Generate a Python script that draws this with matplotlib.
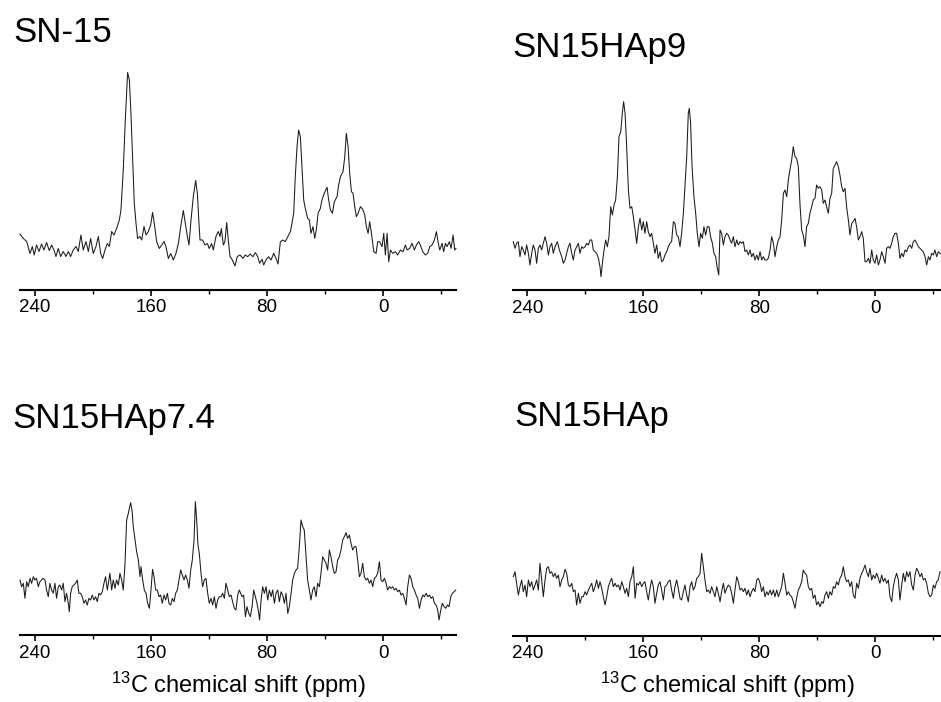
import matplotlib.pyplot as plt

plt.rcParams['font.family'] = ['Liberation Sans', 'DejaVu Sans']
plt.rcParams['mathtext.fontset'] = 'custom'
plt.rcParams['mathtext.rm'] = 'Liberation Sans'
plt.rcParams['mathtext.it'] = 'Liberation Sans:italic'

# 13C CP/MAS spectra, intensity in arbitrary units
sn15_ppm = [250.3, 248.0, 245.7, 243.4, 241.8, 240.5, 238.9, 237.2, 235.4, 233.8,
            232.0, 230.1, 228.5, 226.9, 225.5, 223.9, 222.3, 220.5, 218.6, 217.0,
            215.4, 213.6, 211.7, 210.1, 208.3, 206.7, 204.8, 203.2, 201.6, 199.8,
            197.9, 196.3, 194.7, 193.3, 191.7, 190.1, 188.7, 187.1, 185.5, 183.7,
            181.8, 180.7, 179.1, 177.7, 176.1, 174.9, 173.8, 172.6, 171.5, 170.3,
            169.2, 167.6, 166.4, 164.8, 163.4, 161.8, 160.2, 158.9, 157.7, 156.1,
            154.3, 152.6, 151.0, 149.7, 148.0, 146.4, 144.6, 142.8, 141.1, 139.5,
            137.7, 136.3, 134.9, 133.8, 132.4, 130.8, 129.2, 128.0, 126.9, 126.2,
            124.4, 122.8, 121.1, 119.8, 118.2, 117.0, 115.2, 113.6, 112.4, 111.5,
            110.1, 109.0, 107.8, 106.7, 105.5, 103.9, 102.1, 100.5, 98.6, 96.6,
            94.9, 93.3, 91.5, 89.7, 88.0, 86.4, 85.1, 83.4, 82.3, 80.5,
            78.9, 77.2, 75.4, 73.8, 72.4, 70.8, 69.0, 67.4, 65.7, 63.9,
            62.8, 61.6, 60.5, 59.3, 58.2, 57.0, 55.9, 54.7, 53.6, 52.0,
            50.8, 49.7, 48.3, 47.1, 46.0, 44.8, 43.2, 42.1, 40.5, 38.6,
            37.5, 36.3, 34.9, 33.6, 31.7, 30.6, 29.4, 27.6, 26.4, 25.3,
            24.1, 23.0, 21.8, 20.7, 19.5, 18.4, 17.2, 15.6, 14.0, 12.6,
            11.5, 10.3, 9.2, 8.0, 6.4, 4.8, 3.7, 2.3, 0.7, -0.5,
            -1.6, -2.8, -3.9, -5.1, -6.7, -8.5, -10.1, -12.0, -13.8, -15.4,
            -16.6, -18.4, -20.0, -21.6, -23.0, -24.6, -25.7, -27.4, -29.2, -30.8,
            -32.2, -33.8, -35.4, -36.8, -37.9, -39.1, -40.7, -41.8, -43.0, -44.1,
            -45.7, -46.9, -48.3, -49.4, -50.3]
sn15_int = [55.5, 51.0, 48.0, 36.0, 43.0, 34.5, 44.5, 38.0, 45.5, 39.5,
            47.0, 39.0, 44.5, 39.5, 33.0, 41.0, 33.0, 38.0, 33.0, 38.0,
            33.0, 39.5, 43.0, 38.0, 54.5, 39.5, 48.0, 38.0, 51.0, 36.0,
            43.0, 53.0, 36.0, 31.0, 39.5, 46.0, 43.0, 58.0, 54.5, 61.0,
            69.5, 79.5, 119.5, 169.5, 217.0, 209.5, 176.0, 129.5, 86.0, 66.0,
            51.0, 53.0, 49.5, 63.0, 54.5, 58.0, 64.5, 77.0, 66.0, 48.0,
            41.0, 44.5, 48.0, 43.0, 31.0, 36.0, 29.5, 36.0, 46.0, 63.0,
            79.0, 66.0, 53.0, 44.5, 69.5, 93.0, 109.0, 96.0, 66.0, 49.5,
            49.5, 44.5, 46.0, 41.0, 46.0, 39.5, 53.0, 58.0, 53.0, 61.0,
            44.5, 48.0, 67.0, 49.5, 33.0, 29.5, 23.5, 33.0, 34.5, 31.2,
            34.5, 32.8, 35.5, 32.8, 36.8, 32.8, 26.2, 30.2, 24.5, 30.2,
            32.8, 29.5, 36.2, 31.2, 25.5, 47.8, 49.5, 47.8, 52.8, 57.8,
            66.2, 76.2, 112.8, 142.8, 159.5, 152.8, 122.8, 89.5, 81.2, 71.2,
            69.5, 56.2, 62.8, 51.2, 59.5, 76.2, 81.2, 89.5, 96.2, 102.2,
            89.5, 79.5, 76.2, 87.8, 92.8, 104.5, 112.8, 117.8, 132.8, 156.2,
            142.8, 116.2, 97.8, 96.2, 82.8, 72.8, 76.2, 82.8, 80.2, 74.5,
            62.8, 56.2, 67.8, 56.2, 37.8, 36.2, 47.8, 47.8, 42.8, 56.2,
            34.5, 56.2, 27.8, 39.5, 36.2, 37.8, 34.5, 39.5, 37.8, 44.5,
            39.5, 41.2, 46.2, 39.5, 44.5, 47.8, 44.5, 37.8, 34.5, 36.2,
            42.8, 44.5, 49.5, 57.8, 47.8, 39.5, 46.2, 37.8, 46.2, 42.8,
            47.8, 41.2, 54.5, 39.5, 41.2]

hap9_ppm = [249.7, 248.5, 247.4, 246.2, 245.1, 243.9, 242.8, 241.6, 240.5, 239.3,
            238.2, 237.0, 235.9, 234.7, 233.6, 232.4, 231.3, 230.1, 229.0, 227.8,
            226.7, 225.5, 224.4, 223.2, 222.1, 220.9, 219.3, 217.9, 216.3, 215.2,
            214.0, 212.9, 211.7, 210.6, 209.4, 208.3, 207.1, 206.0, 204.8, 203.7,
            202.5, 201.4, 200.2, 199.1, 197.9, 196.8, 195.6, 194.5, 193.3, 192.2,
            191.0, 189.9, 189.2, 188.0, 187.1, 186.0, 184.8, 183.7, 182.5, 181.4,
            180.2, 179.1, 177.9, 176.8, 175.6, 174.5, 173.6, 172.6, 171.5, 170.3,
            169.2, 168.0, 166.9, 165.7, 164.6, 163.4, 162.3, 161.1, 160.0, 158.9,
            157.7, 156.6, 155.4, 154.3, 153.1, 152.0, 150.8, 149.7, 148.5, 147.4,
            146.2, 145.1, 143.9, 142.8, 141.6, 140.5, 139.3, 138.2, 137.0, 135.9,
            134.7, 133.6, 132.4, 131.3, 130.1, 129.0, 128.3, 127.4, 126.4, 125.1,
            123.9, 122.8, 121.6, 120.5, 119.3, 118.2, 117.0, 115.9, 114.7, 113.6,
            112.4, 111.3, 110.1, 109.2, 108.0, 107.1, 106.0, 104.8, 103.7, 102.5,
            101.4, 100.2, 99.1, 97.9, 96.8, 95.6, 94.5, 93.3, 92.2, 91.0,
            89.9, 88.7, 87.6, 86.4, 85.3, 84.1, 83.0, 81.8, 80.7, 79.5,
            78.4, 77.2, 76.1, 74.9, 73.8, 72.6, 71.5, 70.3, 69.2, 68.0,
            66.9, 65.7, 64.6, 63.4, 62.3, 61.1, 60.0, 58.9, 57.7, 56.6,
            55.4, 54.3, 53.1, 52.0, 50.8, 49.7, 48.5, 47.4, 46.2, 45.1,
            43.9, 42.8, 41.6, 40.5, 39.3, 38.2, 37.0, 35.9, 34.7, 33.6,
            32.4, 31.3, 30.1, 29.0, 27.8, 26.7, 25.5, 24.4, 23.2, 22.1,
            20.9, 19.8, 18.6, 17.5, 16.3, 15.2, 14.0, 12.9, 11.7, 10.6,
            9.4, 8.3, 7.1, 6.0, 4.8, 3.7, 2.5, 1.4, 0.2, -0.9,
            -2.1, -3.2, -4.4, -5.5, -6.7, -7.8, -9.0, -10.1, -11.3, -12.4,
            -13.6, -14.7, -15.9, -17.0, -18.2, -19.3, -20.5, -21.6, -22.8, -23.9,
            -25.1, -26.2, -27.4, -28.5, -29.7, -30.8, -32.0, -33.1, -34.3, -35.4,
            -36.6, -37.7, -38.9, -40.0, -41.1, -42.3, -43.4, -44.6, -45.5]
hap9_int = [48.3, 41.7, 46.7, 48.3, 33.3, 43.3, 40.0, 35.0, 45.0, 36.7,
            25.0, 36.7, 45.0, 40.0, 26.7, 41.7, 45.0, 40.0, 46.7, 53.3,
            46.7, 35.0, 43.3, 46.7, 36.7, 43.3, 48.3, 40.0, 33.3, 26.7,
            30.0, 36.7, 43.3, 46.7, 36.7, 30.0, 40.0, 43.3, 46.7, 36.7,
            43.3, 41.7, 43.3, 46.7, 45.0, 50.0, 50.0, 40.0, 38.3, 36.7,
            31.7, 23.3, 13.3, 30.0, 40.0, 50.0, 43.3, 53.3, 83.3, 75.0,
            85.0, 90.0, 113.3, 153.3, 158.3, 176.7, 188.3, 176.7, 143.3, 100.0,
            81.7, 83.3, 73.3, 60.0, 46.7, 63.3, 71.7, 60.0, 68.3, 56.7,
            68.3, 58.3, 53.3, 56.7, 46.7, 36.7, 45.0, 31.7, 38.3, 28.3,
            30.0, 35.0, 38.3, 43.3, 46.7, 48.3, 68.3, 66.7, 55.0, 53.3,
            43.3, 56.7, 76.7, 103.3, 133.3, 176.7, 181.7, 166.7, 123.3, 93.3,
            76.7, 56.7, 43.3, 56.7, 51.7, 63.3, 55.0, 63.3, 63.3, 53.3,
            46.7, 36.7, 33.3, 23.3, 15.0, 60.0, 56.7, 45.0, 53.3, 56.7,
            55.0, 50.0, 46.7, 53.3, 43.3, 50.0, 45.0, 48.3, 46.7, 48.3,
            38.3, 40.0, 35.0, 40.0, 33.3, 36.7, 30.0, 35.0, 30.0, 38.3,
            30.0, 33.3, 30.0, 30.0, 31.7, 40.0, 53.3, 46.7, 33.3, 43.3,
            50.0, 53.3, 70.0, 96.7, 100.0, 93.3, 110.0, 120.0, 130.0, 143.3,
            133.3, 131.7, 123.3, 86.7, 60.0, 55.0, 43.3, 63.3, 66.7, 76.7,
            83.3, 90.0, 91.7, 105.0, 101.7, 103.3, 100.0, 86.7, 90.0, 83.3,
            76.7, 91.7, 96.7, 121.7, 125.0, 128.3, 123.3, 115.0, 103.3, 98.3,
            101.7, 83.3, 70.0, 55.0, 66.7, 68.3, 71.7, 63.3, 50.0, 53.3,
            58.3, 51.7, 28.3, 28.3, 31.7, 26.7, 40.0, 30.0, 26.7, 35.0,
            25.0, 30.0, 38.3, 33.3, 26.7, 41.7, 43.3, 41.7, 46.7, 53.3,
            56.7, 56.7, 46.7, 31.7, 36.7, 33.3, 40.0, 38.3, 43.3, 45.0,
            41.7, 48.3, 50.0, 46.7, 43.3, 41.7, 40.0, 38.3, 33.3, 25.0,
            33.3, 30.0, 36.7, 35.0, 40.0, 33.3, 38.3, 36.7, 36.0]

hap74_ppm = [250.3, 249.2, 248.0, 246.9, 245.7, 244.6, 243.4, 242.3, 241.1, 240.0,
             238.9, 237.7, 236.6, 235.4, 234.3, 233.1, 232.0, 230.8, 229.7, 228.5,
             227.4, 226.2, 225.1, 223.9, 222.8, 221.6, 220.5, 219.3, 218.2, 217.0,
             216.3, 215.4, 214.3, 213.1, 212.0, 210.8, 209.7, 208.5, 207.4, 206.2,
             205.1, 203.9, 202.8, 201.6, 200.5, 199.3, 198.2, 197.0, 195.9, 194.7,
             193.6, 192.4, 191.3, 190.1, 189.4, 188.3, 187.1, 186.0, 184.8, 183.7,
             182.5, 181.4, 180.2, 179.1, 177.9, 176.8, 175.6, 174.9, 174.0, 173.1,
             172.2, 171.0, 169.9, 168.7, 167.6, 166.9, 165.7, 164.6, 163.4, 162.3,
             161.1, 160.0, 158.9, 157.9, 156.8, 155.6, 154.5, 153.3, 152.2, 151.0,
             149.9, 148.7, 147.6, 146.4, 145.3, 144.1, 143.0, 141.8, 140.7, 139.5,
             138.4, 137.2, 136.1, 134.9, 133.8, 132.6, 131.5, 130.3, 129.4, 128.5,
             127.6, 126.7, 125.5, 124.4, 123.2, 122.1, 120.9, 119.8, 118.6, 117.5,
             116.3, 115.2, 114.0, 112.9, 111.7, 110.6, 109.4, 108.3, 107.1, 106.0,
             104.8, 103.7, 102.5, 101.4, 100.2, 99.1, 97.2, 96.1, 94.9, 93.8,
             92.6, 91.5, 90.3, 89.2, 88.0, 86.9, 85.7, 85.1, 84.1, 83.0,
             81.8, 80.7, 79.5, 78.4, 77.2, 76.1, 74.9, 73.8, 72.6, 71.5,
             70.3, 69.2, 68.0, 66.9, 65.7, 64.6, 63.4, 62.3, 61.1, 60.0,
             58.9, 57.7, 56.6, 55.4, 54.3, 53.1, 52.0, 50.8, 49.7, 48.5,
             47.4, 46.2, 45.1, 43.9, 42.8, 41.6, 40.5, 39.3, 38.2, 37.0,
             35.9, 34.7, 33.6, 32.4, 31.3, 30.1, 29.0, 27.8, 26.7, 25.5,
             24.4, 23.2, 22.1, 20.9, 19.8, 18.6, 17.5, 16.3, 15.2, 14.0,
             12.9, 11.7, 10.6, 9.4, 8.3, 7.1, 6.0, 4.8, 3.7, 2.5,
             1.4, 0.2, -0.9, -2.1, -3.2, -4.4, -5.5, -6.7, -7.8, -9.0,
             -10.1, -11.3, -12.4, -13.6, -14.7, -15.9, -17.0, -18.2, -19.3, -20.5,
             -21.6, -22.8, -23.9, -25.1, -26.2, -27.4, -28.5, -29.7, -30.8, -32.0,
             -33.1, -34.3, -35.4, -36.6, -37.7, -38.6, -39.8, -40.9, -42.1, -43.2,
             -44.4, -45.5, -46.7, -47.8, -49.0, -50.1]
hap74_int = [55.0, 48.3, 51.7, 36.7, 53.3, 48.3, 56.7, 51.7, 58.3, 55.0,
             56.7, 48.3, 53.3, 55.0, 56.7, 55.0, 45.0, 38.3, 51.7, 45.0,
             41.7, 51.7, 36.7, 48.3, 50.0, 45.0, 51.7, 33.3, 41.7, 31.7,
             23.3, 41.7, 48.3, 50.0, 51.7, 55.0, 41.7, 41.7, 38.3, 31.7,
             35.0, 30.0, 36.7, 35.0, 40.0, 35.0, 38.3, 33.3, 41.7, 40.0,
             43.3, 51.7, 58.3, 45.0, 51.7, 61.7, 45.0, 55.0, 46.7, 55.0,
             50.0, 61.7, 55.0, 45.0, 71.7, 115.0, 121.7, 126.7, 132.3, 125.0,
             108.3, 95.0, 83.3, 75.0, 58.3, 68.3, 55.0, 45.0, 41.7, 31.7,
             26.7, 45.0, 65.7, 58.3, 45.0, 45.0, 38.3, 40.0, 31.7, 40.0,
             35.0, 41.7, 31.7, 30.0, 36.7, 33.3, 41.7, 45.0, 55.0, 65.0,
             60.0, 55.0, 60.0, 55.0, 46.7, 65.0, 75.0, 95.0, 133.3, 115.0,
             90.0, 81.7, 61.7, 48.3, 55.0, 56.7, 41.7, 31.7, 36.7, 30.0,
             38.3, 26.7, 35.0, 38.3, 38.3, 41.7, 36.7, 51.7, 45.0, 38.3,
             40.0, 33.3, 26.7, 25.0, 40.0, 45.0, 38.3, 40.0, 18.3, 28.3,
             21.7, 18.3, 28.3, 45.0, 38.3, 31.7, 21.7, 15.0, 35.0, 48.3,
             41.7, 48.3, 35.0, 45.0, 38.3, 45.0, 31.7, 41.7, 45.0, 33.3,
             43.3, 40.0, 31.7, 41.7, 21.7, 28.3, 41.7, 55.0, 61.7, 65.0,
             66.7, 88.3, 115.0, 108.3, 105.0, 78.3, 55.0, 45.0, 35.0, 45.0,
             48.3, 38.3, 51.7, 48.3, 61.7, 78.3, 75.0, 71.7, 65.0, 85.0,
             78.3, 68.3, 61.7, 63.3, 75.0, 78.3, 85.0, 95.0, 98.3, 102.3,
             96.7, 100.0, 91.7, 85.0, 88.3, 88.3, 75.0, 58.3, 61.7, 71.7,
             58.3, 55.0, 56.7, 51.7, 55.0, 48.3, 56.7, 58.3, 61.7, 73.3,
             55.0, 53.3, 56.7, 51.7, 45.0, 48.3, 46.7, 48.3, 45.0, 46.7,
             43.3, 45.0, 40.0, 41.7, 36.7, 30.0, 48.3, 60.0, 56.7, 48.3,
             45.0, 40.0, 36.7, 26.7, 35.0, 40.0, 38.3, 41.7, 38.3, 40.0,
             36.7, 38.3, 31.7, 30.0, 25.0, 15.0, 25.0, 31.7, 28.3, 26.7,
             30.0, 28.3, 38.3, 41.7, 43.3, 45.0]

hap_ppm = [249.7, 248.5, 247.4, 246.2, 245.1, 243.9, 242.8, 241.6, 240.5, 239.3,
           238.2, 237.0, 235.9, 234.7, 233.6, 232.4, 231.3, 230.1, 229.0, 227.8,
           226.7, 225.5, 224.4, 223.2, 222.1, 220.9, 219.8, 218.6, 217.5, 216.3,
           215.2, 214.0, 212.9, 211.7, 210.6, 209.4, 208.3, 207.1, 206.0, 204.8,
           203.7, 202.5, 201.4, 200.2, 199.1, 197.9, 196.8, 195.6, 194.5, 193.3,
           192.2, 191.0, 189.9, 188.7, 187.6, 186.4, 185.3, 184.1, 183.0, 181.8,
           180.7, 179.5, 178.4, 177.2, 176.1, 174.9, 173.8, 172.6, 171.5, 170.3,
           169.2, 168.0, 166.9, 165.7, 164.6, 163.4, 162.3, 161.1, 160.0, 158.9,
           157.7, 156.6, 155.4, 154.3, 153.1, 152.0, 150.8, 149.7, 148.5, 147.4,
           146.2, 145.1, 143.9, 142.8, 141.6, 140.5, 139.3, 138.2, 137.0, 135.9,
           134.7, 133.6, 132.4, 131.3, 130.1, 129.0, 127.8, 126.7, 125.5, 124.4,
           123.2, 122.1, 120.9, 119.8, 118.6, 117.5, 116.3, 115.2, 114.0, 112.9,
           111.7, 110.6, 109.4, 108.3, 107.1, 106.0, 104.8, 103.7, 102.5, 101.4,
           100.2, 99.1, 97.9, 96.8, 95.6, 94.5, 93.3, 92.2, 91.0, 89.9,
           88.7, 87.6, 86.4, 85.3, 84.1, 83.0, 81.8, 80.7, 79.5, 78.4,
           77.2, 76.1, 74.9, 73.8, 72.6, 71.5, 70.3, 69.2, 68.0, 66.9,
           65.7, 64.6, 63.4, 62.3, 61.1, 60.0, 58.9, 57.7, 56.6, 55.4,
           54.3, 53.1, 52.0, 50.8, 49.7, 48.5, 47.4, 46.2, 45.1, 43.9,
           42.8, 41.6, 40.5, 39.3, 38.2, 37.0, 35.9, 34.7, 33.6, 32.4,
           31.3, 30.1, 29.0, 27.8, 26.7, 25.5, 24.4, 23.2, 22.1, 20.9,
           19.8, 18.6, 17.5, 16.3, 15.2, 14.0, 12.9, 11.7, 10.6, 9.4,
           8.3, 7.1, 6.0, 4.8, 3.7, 2.5, 1.4, 0.2, -0.9, -2.1,
           -3.2, -4.4, -5.5, -6.7, -7.8, -9.0, -10.1, -11.3, -12.4, -13.6,
           -14.7, -15.9, -17.0, -18.2, -19.3, -20.5, -21.6, -22.8, -23.9, -25.1,
           -26.2, -27.4, -28.5, -29.7, -30.8, -32.0, -33.1, -34.3, -35.4, -36.6,
           -37.7, -38.9, -40.0, -41.1, -42.3, -43.4, -44.6]
hap_int = [59.0, 64.0, 52.4, 40.7, 49.0, 55.7, 44.0, 50.7, 39.0, 55.7,
           49.0, 54.0, 45.7, 50.7, 55.7, 45.7, 72.4, 55.7, 39.0, 55.7,
           67.4, 69.0, 62.4, 64.0, 59.0, 62.4, 57.4, 60.7, 49.0, 55.7,
           59.0, 66.4, 62.4, 50.7, 49.0, 52.4, 44.0, 45.7, 30.7, 42.4,
           32.4, 39.0, 39.0, 44.0, 40.7, 45.7, 49.0, 52.4, 44.0, 49.0,
           55.7, 47.4, 54.0, 47.4, 39.0, 30.7, 39.0, 49.0, 54.0, 57.4,
           49.0, 52.4, 49.0, 50.7, 45.7, 54.0, 49.0, 42.4, 47.4, 39.0,
           54.0, 59.0, 69.0, 37.4, 52.4, 50.7, 54.0, 49.0, 52.4, 54.0,
           44.0, 35.7, 47.4, 55.7, 49.0, 32.4, 42.4, 50.7, 54.0, 45.7,
           35.7, 49.0, 50.7, 54.0, 55.7, 45.7, 37.4, 49.0, 55.7, 47.4,
           37.4, 35.7, 44.0, 50.7, 40.7, 34.0, 49.0, 54.0, 45.7, 49.0,
           57.4, 59.0, 62.4, 82.4, 69.0, 55.7, 44.0, 45.7, 42.4, 49.0,
           44.0, 39.0, 49.0, 42.4, 34.0, 44.0, 52.4, 42.4, 47.4, 50.7,
           49.0, 42.4, 32.4, 45.7, 59.0, 54.0, 45.7, 47.4, 44.0, 47.4,
           40.7, 45.7, 39.0, 44.0, 47.4, 44.0, 55.7, 57.4, 52.4, 44.0,
           49.0, 39.0, 44.0, 40.7, 45.7, 40.7, 45.7, 39.0, 45.7, 39.0,
           44.0, 49.0, 62.4, 52.4, 40.7, 44.0, 40.7, 39.0, 34.0, 27.4,
           37.4, 45.7, 49.0, 54.0, 65.7, 62.4, 60.7, 49.0, 45.7, 47.4,
           37.4, 40.7, 30.7, 34.0, 29.0, 34.0, 32.4, 40.7, 44.0, 37.4,
           44.0, 40.7, 49.0, 47.4, 54.0, 50.7, 57.4, 60.7, 69.0, 59.0,
           54.0, 55.7, 49.0, 54.0, 40.7, 37.4, 52.4, 47.4, 57.4, 62.4,
           65.7, 70.7, 64.0, 59.0, 67.4, 55.7, 60.7, 57.4, 62.4, 57.4,
           52.4, 60.7, 54.0, 57.4, 52.4, 55.7, 39.0, 34.0, 49.0, 57.4,
           62.4, 55.7, 35.7, 50.7, 62.4, 54.0, 64.0, 59.0, 64.0, 50.7,
           45.7, 60.7, 67.4, 64.0, 59.0, 62.4, 55.7, 57.4, 52.4, 42.4,
           39.0, 40.7, 50.7, 47.4, 54.0, 55.7, 64.0]

titles = ['SN-15', 'SN15HAp9', 'SN15HAp7.4', 'SN15HAp']
major_ticks = [240, 160, 80, 0]
minor_ticks = [200, 120, 40, -40]

W, H = 941, 702
fig = plt.figure(figsize=(W / 100, H / 100), dpi=100)

# axes boxes in pixels: left, right, top, bottom (bottom = baseline axis)
boxes = [(20, 456, 60, 289.5),
         (513, 941, 80, 290),
         (20, 456, 480, 635),
         (513, 941, 520, 635.7)]
xlims = [(250.3, -50.3), (249.9, -45.3), (250.3, -50.3), (249.9, -45.3)]
spectra = [(sn15_ppm, sn15_int), (hap9_ppm, hap9_int),
           (hap74_ppm, hap74_int), (hap_ppm, hap_int)]
title_pos = [(13, 42), (512, 57), (12, 428), (514, 426)]

for k, (l, r, t, b) in enumerate(boxes):
    ax = fig.add_axes([l / W, 1 - b / H, (r - l) / W, (b - t) / H])
    x, y = spectra[k]
    ax.plot(x, y, color='#1a1a1a', lw=0.75, clip_on=False)
    ax.set_xlim(*xlims[k])
    ax.set_ylim(0, b - t)
    for s in ['left', 'right', 'top']:
        ax.spines[s].set_visible(False)
    ax.spines['bottom'].set_linewidth(1.5)
    ax.set_yticks([])
    ax.set_xticks(major_ticks)
    ax.set_xticks(minor_ticks, minor=True)
    ax.tick_params(axis='x', which='major', direction='out', length=4, width=1.2,
                   labelsize=13.5, pad=3)
    ax.tick_params(axis='x', which='minor', direction='out', length=3, width=1.0)
    ax.patch.set_visible(False)

    tx, ty = title_pos[k]
    fig.text(tx / W, 1 - ty / H, titles[k], fontsize=25, ha='left', va='baseline')

    if k >= 2:
        fig.text((l + r) / 2 / W, 1 - 693 / H, r'$^{13}$C chemical shift (ppm)',
                 fontsize=17, ha='center', va='baseline')

fig.savefig('out.png', dpi=100)
